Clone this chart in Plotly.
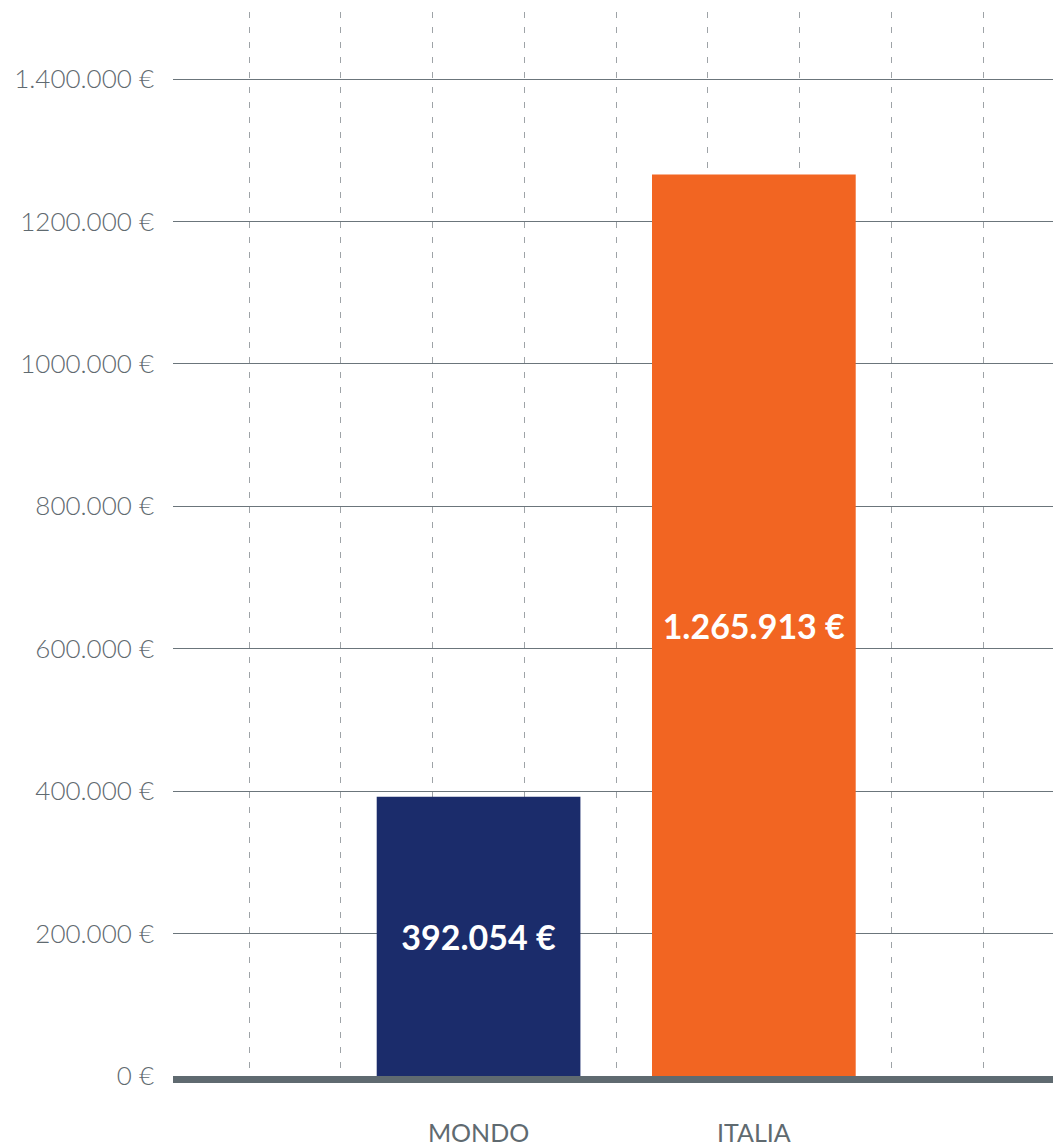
import plotly.graph_objects as go

categories = ["MONDO", "ITALIA"]
values = [392054, 1265913]
value_labels = ["392.054 €", "1.265.913 €"]
bar_colors = ["#1b2c6b", "#f26522"]
y_tickvals = [0, 200000, 400000, 600000, 800000, 1000000, 1200000, 1400000]
y_ticktext = ["0 €", "200.000 €", "400.000 €", "600.000 €", "800.000 €",
              "1000.000 €", "1200.000 €", "1.400.000 €"]

x_pos = [2.5 + 3 * i for i in range(len(categories))]

TXT = "#5f6a70"

fig = go.Figure(go.Bar(
    x=x_pos, y=values, width=2.22,
    marker=dict(color=bar_colors, line=dict(width=0)),
    text=value_labels, textposition="inside", insidetextanchor="middle",
    textangle=0,
    textfont=dict(family="Lato", size=34, color="white", weight="bold"),
    hoverinfo="skip",
))

fig.update_layout(
    width=1053, height=1147,
    margin=dict(l=173, r=0, t=12, b=71),
    paper_bgcolor="white", plot_bgcolor="white",
    showlegend=False,
    font=dict(family="Lato", color=TXT),
    xaxis=dict(
        range=[-0.83, 8.76], automargin=False,
        tickmode="array", tickvals=x_pos, ticktext=categories,
        showgrid=False, zeroline=False,
        showline=True, linewidth=7, linecolor="#5f6a70",
        ticks="", ticklabelstandoff=29,
        tickfont=dict(size=25, color=TXT, family="Lato", weight=400),
        minor=dict(dtick=1, tick0=0, showgrid=True, gridcolor="#9ea3a7",
                   gridwidth=1, griddash="6px,9px", ticks=""),
    ),
    yaxis=dict(
        range=[0, 1494100], automargin=False,
        tickmode="array", tickvals=y_tickvals, ticktext=y_ticktext,
        showgrid=True, gridcolor="#6b757b", gridwidth=1,
        zeroline=False, showline=False, ticks="",
        ticklabelstandoff=18,
        tickfont=dict(size=26, color=TXT, family="Lato", weight=300),
    ),
)

fig.write_html("out.html", config={"displayModeBar": False},
               post_script="document.body.style.margin='0';")
